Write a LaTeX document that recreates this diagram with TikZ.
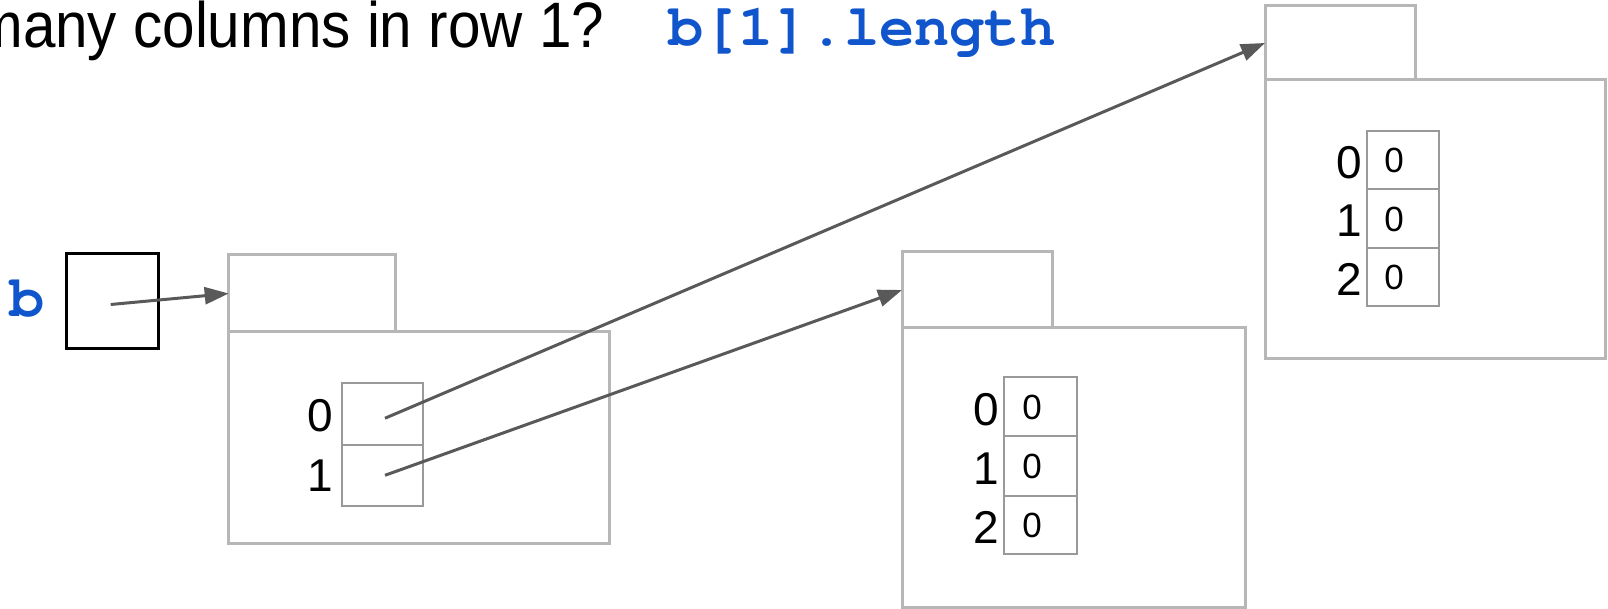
\documentclass[tikz,border=0pt]{standalone}
\usepackage{fontspec}
\setmainfont{Liberation Sans}
\newfontfamily\codefont{texgyrecursor}[Extension=.otf, UprightFont=*-regular, BoldFont=*-bold]
\usetikzlibrary{arrows.meta}
\definecolor{codeblue}{HTML}{1155CC}
\definecolor{boxgray}{HTML}{B7B7B7}
\definecolor{cellgray}{HTML}{999999}
\definecolor{ptrgray}{HTML}{595959}
\begin{document}
\begin{tikzpicture}[x=0.5pt,y=-0.5pt,
  objbox/.style={draw=boxgray, line width=1.5pt, rectangle, inner sep=0pt, outer sep=0pt, anchor=north west},
  cellbox/.style={draw=cellgray, line width=1pt, rectangle, inner sep=0pt, outer sep=0pt, anchor=north west},
  varbox/.style={draw=black, line width=1.5pt, rectangle, inner sep=0pt, outer sep=0pt, anchor=north west, minimum width=46pt, minimum height=47.5pt},
  idx/.style={font=\fontsize{23pt}{23pt}\selectfont, inner sep=0pt},
  val/.style={font=\fontsize{17.5pt}{17.5pt}\selectfont, inner sep=0pt},
  code/.style={font=\codefont\bfseries\fontsize{29.3pt}{29.3pt}\selectfont, text=codeblue, inner sep=0pt},
  ptr/.style={draw=ptrgray, line width=1.5pt, -{Triangle[length=12pt,width=8.5pt]}}
]
\useasboundingbox (0,0) rectangle (1608,609);

% title
\node[font=\fontsize{29.2pt}{29.2pt}\selectfont, anchor=base west, inner sep=0pt] (title) at (-26,48) {\scalebox{1}[1.1]{many columns in row 1?}};
\node[code, anchor=base west] (expr) at (668,46) {b[1].length};

% variable b
\node[code, anchor=base] (blabel) at (27,317) {b};
\node[varbox] (bvar) at (66.7,254) {};

% array 1 (outer)
\node[objbox, minimum width=190.5pt, minimum height=105.75pt] (body1) at (228.7,332) {};
\node[objbox, minimum width=83.5pt, minimum height=38.5pt] (tab1) at (228.7,255) {};
\node[cellbox, minimum width=40.5pt, minimum height=30.75pt] (c10) at (341.5,383.5) {};
\node[cellbox, minimum width=40.5pt, minimum height=30.3pt] (c11) at (341.5,445) {};
\node[idx] (i10) at (320,416) {0};
\node[idx] (i11) at (320,476) {1};

% array 2 (row 1)
\node[objbox, minimum width=171.5pt, minimum height=139.5pt] (body2) at (902,328) {};
\node[objbox, minimum width=75pt, minimum height=38pt] (tab2) at (902,252) {};
\node[cellbox, minimum width=36.5pt, minimum height=29.5pt] (c20) at (1004,377) {};
\node[cellbox, minimum width=36.5pt, minimum height=30pt] (c21) at (1004,436) {};
\node[cellbox, minimum width=36.5pt, minimum height=29pt] (c22) at (1004,496) {};
\node[idx] (i20) at (986,410) {0};
\node[idx] (i21) at (986,469) {1};
\node[idx] (i22) at (986,527) {2};
\node[val] (v20) at (1032,407) {0};
\node[val] (v21) at (1032,466) {0};
\node[val] (v22) at (1032,525) {0};

% array 3 (row 0)
\node[objbox, minimum width=170pt, minimum height=139.5pt] (body3) at (1265,80) {};
\node[objbox, minimum width=75pt, minimum height=37pt] (tab3) at (1265,6) {};
\node[cellbox, minimum width=36pt, minimum height=29pt] (c30) at (1367,131) {};
\node[cellbox, minimum width=36pt, minimum height=29.5pt] (c31) at (1367,189) {};
\node[cellbox, minimum width=36pt, minimum height=29pt] (c32) at (1367,248) {};
\node[idx] (i30) at (1349,163) {0};
\node[idx] (i31) at (1349,221) {1};
\node[idx] (i32) at (1349,279) {2};
\node[val] (v30) at (1394,160) {0};
\node[val] (v31) at (1394,219) {0};
\node[val] (v32) at (1394,277) {0};

% pointers
\draw[ptr] ([xshift=-1pt,yshift=-1.5pt]bvar.center) -- (tab1.west);
\draw[ptr] ([xshift=1.5pt,yshift=-2pt]c10.center) -- (tab3.west);
\draw[ptr] ([xshift=1.5pt]c11.center) -- (tab2.west);
\end{tikzpicture}
\end{document}
